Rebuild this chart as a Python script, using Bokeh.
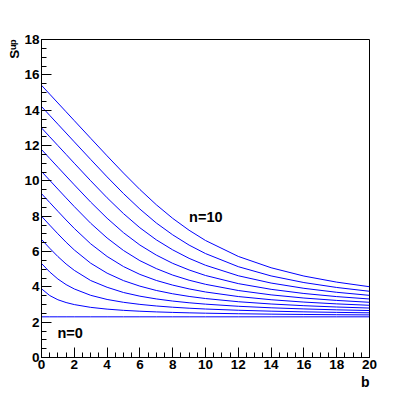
import math
from bokeh.plotting import figure
from bokeh.models import Range1d, SingleIntervalTicker, Label, Title
from bokeh.embed import file_html
from bokeh.resources import INLINE

# background b (x axis)
b_values = [0, 0.5, 1, 1.5, 2, 3, 4, 5, 6, 7, 8, 9, 10, 12, 14, 16, 18, 20]

s_n0 = [2.303, 2.303, 2.303, 2.303, 2.303, 2.303, 2.303, 2.303, 2.303, 2.303, 2.303, 2.303, 2.303, 2.303, 2.303, 2.303, 2.303, 2.303]
s_n1 = [3.890, 3.508, 3.268, 3.111, 2.995, 2.838, 2.738, 2.669, 2.619, 2.581, 2.552, 2.528, 2.508, 2.477, 2.454, 2.436, 2.422, 2.411]
s_n2 = [5.322, 4.843, 4.442, 4.126, 3.880, 3.520, 3.285, 3.124, 3.007, 2.916, 2.846, 2.790, 2.744, 2.674, 2.623, 2.584, 2.554, 2.529]
s_n3 = [6.681, 6.184, 5.713, 5.292, 4.932, 4.356, 3.975, 3.679, 3.471, 3.315, 3.194, 3.098, 3.020, 2.900, 2.813, 2.749, 2.698, 2.658]
s_n4 = [7.994, 7.494, 7.000, 6.525, 6.085, 5.337, 4.774, 4.351, 4.039, 3.795, 3.606, 3.457, 3.337, 3.157, 3.029, 2.932, 2.858, 2.799]
s_n5 = [9.275, 8.775, 8.276, 7.783, 7.305, 6.435, 5.719, 5.147, 4.704, 4.362, 4.097, 3.883, 3.709, 3.451, 3.270, 3.137, 3.035, 2.955]
s_n6 = [10.532, 10.032, 9.532, 9.034, 8.541, 7.599, 6.765, 6.057, 5.481, 5.033, 4.665, 4.375, 4.143, 3.792, 3.545, 3.366, 3.230, 3.125]
s_n7 = [11.771, 11.271, 10.771, 10.271, 9.773, 8.797, 7.883, 7.064, 6.366, 5.797, 5.329, 4.955, 4.642, 4.182, 3.859, 3.623, 3.447, 3.312]
s_n8 = [12.995, 12.495, 11.995, 11.495, 10.995, 10.003, 9.040, 8.144, 7.344, 6.660, 6.092, 5.612, 5.221, 4.627, 4.214, 3.916, 3.691, 3.518]
s_n9 = [14.206, 13.706, 13.206, 12.706, 12.206, 11.209, 10.224, 9.278, 8.402, 7.614, 6.943, 6.362, 5.883, 5.141, 4.617, 4.242, 3.964, 3.749]
s_n10 = [15.407, 14.907, 14.407, 13.907, 13.407, 12.408, 11.414, 10.439, 9.509, 8.647, 7.876, 7.202, 6.623, 5.721, 5.080, 4.610, 4.266, 4.006]

curves = [s_n0, s_n1, s_n2, s_n3, s_n4, s_n5, s_n6, s_n7, s_n8, s_n9, s_n10]

FONT = "Liberation Sans"

p = figure(width=405, height=393, output_backend="svg", toolbar_location=None,
           x_range=Range1d(0, 20), y_range=Range1d(0, 18),
           min_border_left=41, min_border_right=36,
           min_border_top=39, min_border_bottom=36)

p.background_fill_color = "white"
p.border_fill_color = "white"
p.outline_line_color = "black"
p.outline_line_width = 1
p.xgrid.visible = False
p.ygrid.visible = False

p.xaxis.ticker = SingleIntervalTicker(interval=2, num_minor_ticks=4)
p.yaxis.ticker = SingleIntervalTicker(interval=2, num_minor_ticks=4)

for ax in (p.xaxis, p.yaxis):
    ax.axis_line_color = "black"
    ax.major_tick_line_color = "black"
    ax.minor_tick_line_color = "black"
    ax.major_tick_in = 10
    ax.major_tick_out = 0
    ax.minor_tick_in = 5
    ax.minor_tick_out = 0
    ax.major_label_text_font = FONT
    ax.major_label_text_font_style = "bold"
    ax.major_label_text_font_size = "13.5px"
    ax.major_label_text_color = "black"
    ax.major_label_standoff = 2

for s in curves:
    p.line(b_values, s, line_color="#0000ff", line_width=1)

# axis titles placed like ROOT: at the far end of each axis
p.add_layout(Title(text="b", align="right", standoff=0,
                   text_font=FONT, text_font_style="bold",
                   text_font_size="14px", text_color="black"), "below")
p.add_layout(Title(text="S\u1d58\u1d56", align="right", standoff=0,
                   text_font=FONT, text_font_style="bold",
                   text_font_size="13.5px", text_color="black"), "left")

def lab(x, y, text, size, align="left"):
    p.add_layout(Label(x=x, y=y, text=text,
                       text_align=align, text_baseline="alphabetic",
                       text_font=FONT, text_font_style="bold",
                       text_font_size=size, text_color="black"))

lab(0.97, 1.41, "n=0", "14.5px")
lab(9.0, 7.98, "n=10", "14.5px")

open("out.html", "w").write(file_html(p, INLINE))
